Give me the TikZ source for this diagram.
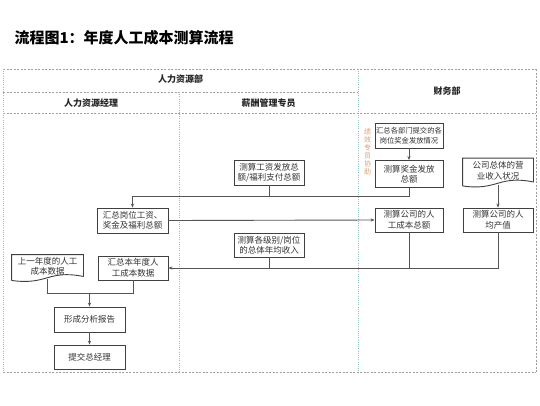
\documentclass[tikz,border=0pt]{standalone}
\usepackage{fontspec}
\newfontfamily\cjk{Noto Sans CJK SC}
\usetikzlibrary{arrows.meta,calc}
\definecolor{boxc}{HTML}{404040}
\definecolor{linec}{HTML}{555555}
\definecolor{framec}{HTML}{A0A0A0}
\definecolor{tealc}{HTML}{8CC4BE}
\definecolor{orangec}{HTML}{D9A07A}
\tikzset{
  box/.style={draw=boxc, line width=0.9pt, minimum width=70pt, minimum height=25pt, inner sep=1pt, align=center, font=\cjk\fontsize{8.5}{10.5}\selectfont, text=black!80},
  docbox/.style={box, draw=none},
  conn/.style={draw=linec, line width=0.9pt},
  arr/.style={conn, -{Stealth[length=4pt,width=3.2pt]}},
  frame/.style={draw=framec, line width=0.6pt, dash pattern=on 2pt off 1.5pt},
  tealline/.style={draw=tealc, line width=1pt, dash pattern=on 1pt off 1.2pt},
  head/.style={font=\cjk\bfseries\fontsize{9}{10}\selectfont, text=black!85},
}
\newcommand\docshape[1]{%
  \draw[draw=boxc, line width=0.9pt] ($(#1.south west)+(0,2)$) -- (#1.north west) -- (#1.north east) -- ($(#1.south east)+(0,-2)$)
   .. controls ($(#1.south)+(0,-9)$) and ($(#1.south)+(0,7)$) .. ($(#1.south west)+(0,2)$);}
\begin{document}
\begin{tikzpicture}[x=1pt,y=-1pt]
\useasboundingbox[fill=white] (0,0) rectangle (540,405);
% title
\node[anchor=west, font=\cjk\bfseries\fontsize{15}{16}\selectfont] (title) at (11,38) {流程图1：年度人工成本测算流程};
% frame
\draw[frame] (3,69) -- (536,69);
\draw[frame] (3,372) -- (536,372);
\draw[frame] (536,69) -- (536,372);
\draw[frame] (3,92) -- (358,92);
\draw[frame] (3,113) -- (536,113);
\draw[tealline] (3,69) -- (3,372);
\draw[tealline] (179,92) -- (179,372);
\draw[tealline] (358,69) -- (358,372);
% headers
\node[head] (hrdept) at (180.5,79) {人力资源部};
\node[head] (hrmgr) at (91,103) {人力资源经理};
\node[head] (pay) at (268.5,103) {薪酬管理专员};
\node[head] (fin) at (447,91) {财务部};
\node[font=\cjk\fontsize{7}{8}\selectfont, text=orangec, align=center, inner sep=0pt] (assist) at (367.5,152) {绩\\效\\专\\员\\协\\助};
% boxes
\node[box, minimum width=68pt, font=\cjk\fontsize{7.3}{10}\selectfont] (A) at (409,135.5) {汇总各部门提交的各\\岗位奖金发放情况};
\node[box, minimum width=68pt, minimum height=27pt] (B) at (409,174) {测算奖金发放\\总额};
\node[docbox] (C) at (498,171) {公司总体的营\\业收入状况};
\docshape{C}
\node[box] (D) at (269,172.5) {测算工资发放总\\额/福利支付总额};
\node[box, minimum width=71pt] (E) at (132.5,220.5) {汇总岗位工资、\\奖金及福利总额};
\node[box, minimum width=68pt, minimum height=24pt] (F) at (409,220) {测算公司的人\\工成本总额};
\node[box, minimum height=24pt] (G) at (498,220) {测算公司的人\\均产值};
\node[box, minimum height=24pt] (H) at (269,245) {测算各级别/岗位\\的总体年均收入};
\node[docbox, minimum width=71pt, minimum height=23pt] (I) at (47.5,266.5) {上一年度的人工\\成本数据};
\docshape{I}
\node[box, minimum height=24pt] (J) at (133,268) {汇总本年度人\\工成本数据};
\node[box, minimum width=71pt] (K) at (89.5,319.5) {形成分析报告};
\node[box, minimum width=71pt, minimum height=24pt] (L) at (89.5,357) {提交总经理};
% connectors
\coordinate (h1) at (0,196);
\coordinate (h2) at (0,268);
\coordinate (h3) at (0,293);
\draw[arr] (A) -- (B);
\draw[arr] (B.south) |- (E.north |- h1) -- (E.north);
\draw[conn] (D.south) -- (D.south |- h1);
\draw[arr] (E.east) -- (F.west);
\draw[arr] ($(C.south)+(0,1)$) -- (G.north);
\draw[conn] (F.south) -- (F.south |- h2);
\draw[arr] (G.south) |- (J.east);
\draw[conn] (H.south) -- (H.south |- h2);
\draw[conn] ($(I.south)+(0,1)$) -- (I.south |- h3) -- (J.south |- h3) -- (J.south);
\draw[arr] (K.north |- h3) -- (K.north);
\draw[arr] (K) -- (L);
\end{tikzpicture}
\end{document}
